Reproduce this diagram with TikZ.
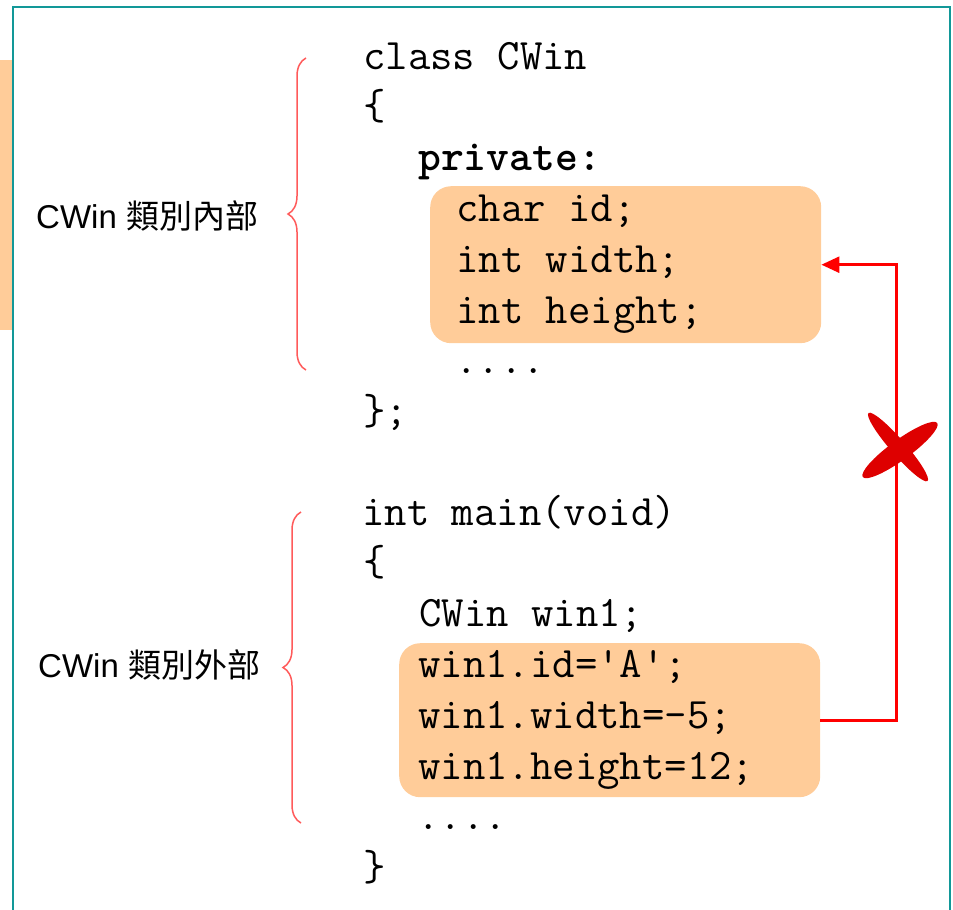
\documentclass[tikz,border=0pt]{standalone}
\usepackage{fontspec}
\setmainfont{Liberation Sans}
\newfontfamily\cjkfont{Noto Sans CJK TC}
\usetikzlibrary{arrows.meta,decorations.pathreplacing}

\definecolor{frameteal}{RGB}{18,152,152}
\definecolor{peach}{RGB}{255,204,153}
\definecolor{bracered}{RGB}{255,90,90}
\definecolor{crossred}{RGB}{222,0,0}

\newcommand{\codedots}{....}

\tikzset{
  code/.style={anchor=base west, inner sep=0pt, font=\ttfamily\fontsize{43.5}{43.5}\selectfont},
  membox/.style={fill=peach, rounded corners=21pt, anchor=north west, inner sep=0pt},
  side/.style={anchor=base west, inner sep=0pt, font=\fontsize{33}{33}\selectfont},
  curly/.style={draw=bracered, line width=1.5pt, decorate, decoration={brace, amplitude=18pt}},
  link/.style={draw=red, line width=2.6pt, -{Triangle[length=18pt,width=16pt]}}
}

\begin{document}
\begin{tikzpicture}[x=1pt,y=-1pt]
  \useasboundingbox (0,0) rectangle (953,910);
  \pgfmathsetmacro{\pitch}{50.8} % line spacing of the code

  % frame and side tab
  \fill[peach] (0,60) rectangle (11.5,330);
  \draw[frameteal, line width=2.5pt] (13,910) -- (13,7) -- (950,7) -- (950,910);

  % data members, inside and outside the class
  \node[membox, minimum width=391pt, minimum height=157pt] (priv) at (430,186) {};
  \node[membox, minimum width=421pt, minimum height=154pt] (pub) at (399,643) {};

  % class CWin
  \foreach \dx/\txt [count=\i] in {363/class CWin, 363/\{, 418/\textbf{private:},
      456/char id;, 456/int width;, 456/int height;, 455/\codedots, 363/\};}
    \node[code] (cls\i) at (\dx, {69+(\i-1)*\pitch}) {\txt};

  % main()
  \foreach \dx/\txt [count=\i] in {362/int main(void), 363/\{, 419/CWin win1;,
      418/win1.id=\textquotesingle A\textquotesingle;, 418/win1.width=-5;,
      418/win1.height=12;, 417/\codedots, 363/\}}
    \node[code] (main\i) at (\dx, {525+(\i-1)*\pitch}) {\txt};

  % braces and labels
  \draw[curly] (306,370) -- (306,58);
  \draw[curly] (301,823) -- (301,512);
  \node[side] (inlbl) at (36,228) {CWin {\cjkfont 類別內部}};
  \node[side] (outlbl) at (38,677) {CWin {\cjkfont 類別外部}};

  % access from outside is refused
  \draw[link] (pub.east) -- ++(76,0) |- (priv.east);
  \fill[crossred, rotate around={-49:(898,447)}] (898,447) ellipse [x radius=45pt, y radius=7.5pt];
  \fill[crossred, rotate around={36:(900,450)}] (900,450) ellipse [x radius=46pt, y radius=10pt];
\end{tikzpicture}
\end{document}
